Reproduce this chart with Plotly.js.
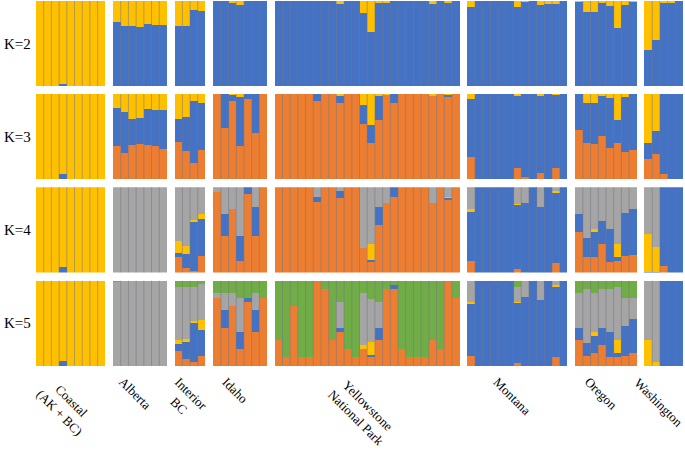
<!DOCTYPE html>
<html><head><meta charset="utf-8">
<script src="https://cdn.plot.ly/plotly-3.0.1.min.js"></script>
<style>body{margin:0;background:#fff}#chart{width:685px;height:450px}</style>
</head><body><div id="chart"></div>
<script>
// Groups (populations) and number of individuals in each
const groups = ['Coastal<br>(AK + BC)','Alberta','Interior<br>BC','Idaho','Yellowstone<br>National Park','Montana','Oregon','Washington'];
const groupSizes = [9,7,4,7,24,13,8,5];
const rowLabels = ['K=2','K=3','K=4','K=5'];

// Cluster membership proportions per individual (order: Coastal, Alberta, Interior BC, Idaho, Yellowstone, Montana, Oregon, Washington)
// K=2
const k2Blue = [0,0,0,0.02,0,0,0,0,0,
  0.75,0.71,0.71,0.70,0.73,0.72,0.72,
  0.71,0.71,0.89,0.88,
  1,1,0.98,0.95,1,1,1,
  1,1,1,1,1,1,1,1,0.97,1,1,0.86,0.64,0.98,0.98,1,1,1,1,1,0.96,1,0.98,1,
  0.93,1,1,1,1,1,0.93,0.99,1,0.95,0.97,0.97,1,
  0.99,0.87,0.87,0.98,0.94,0.68,0.95,0.99,
  0.42,0.54,0.98,0.98,1];
const k2Yellow = [1,1,1,0.98,1,1,1,1,1,
  0.25,0.29,0.29,0.30,0.27,0.28,0.28,
  0.29,0.29,0.11,0.12,
  0,0,0.02,0.05,0,0,0,
  0,0,0,0,0,0,0,0,0.03,0,0,0.14,0.36,0.02,0.02,0,0,0,0,0,0.04,0,0.02,0,
  0.07,0,0,0,0,0,0.07,0.01,0,0.05,0.03,0.03,0,
  0.01,0.13,0.13,0.02,0.06,0.32,0.05,0.01,
  0.58,0.46,0.02,0.02,0];
// K=3
const k3Orange = [0,0,0,0,0,0,0,0,0,
  0.39,0.31,0.40,0.41,0.40,0.39,0.36,
  0.44,0.33,0.19,0.34,
  1,0.60,0.92,0.39,0.94,0.54,1,
  1,1,1,1,1,0.92,1,1,0.89,1,1,0.65,0.42,0.69,0.99,0.89,1,1,1,1,0.98,1,0.96,1,
  0.26,0,0,0,0,0,0.13,0.02,0,0.07,0,0.13,0,
  0.58,0.42,0.41,0.51,0.37,0.43,0.32,0.34,
  0.24,0.29,0.06,0,0];
const k3Blue = [0,0,0,0.06,0,0,0,0,0,
  0.45,0.48,0.31,0.31,0.42,0.42,0.45,
  0.27,0.40,0.73,0.56,
  0,0.40,0.07,0.58,0.06,0.46,0,
  0,0,0,0,0,0.08,0,0,0.09,0,0,0.22,0.22,0.29,0,0.11,0,0,0,0,0,0,0.03,0,
  0.68,1,1,1,1,1,0.85,0.98,1,0.91,1,0.86,1,
  0.42,0.47,0.48,0.47,0.58,0.26,0.65,0.66,
  0.19,0.27,0.94,1,1];
const k3Yellow = [1,1,1,0.94,1,1,1,1,1,
  0.16,0.21,0.29,0.28,0.18,0.19,0.19,
  0.29,0.27,0.08,0.10,
  0,0,0.01,0.03,0,0,0,
  0,0,0,0,0,0,0,0,0.02,0,0,0.13,0.36,0.02,0.01,0,0,0,0,0,0.02,0,0.01,0,
  0.06,0,0,0,0,0,0.02,0,0,0.02,0,0.01,0,
  0,0.11,0.11,0.02,0.05,0.31,0.03,0,
  0.57,0.44,0,0,0];
// K=4
const k4Orange = [0,0,0,0,0,0,0,0,0,
  0,0,0,0,0,0,0,
  0.18,0.05,0.02,0.19,
  0.94,0.43,0.74,0.14,0.92,0.43,1,
  1,1,1,1,1,0.83,1,1,0.87,1,1,0.29,0.12,0.56,0.81,0.88,1,1,1,1,0.81,1,0.85,1,
  0.13,0,0,0,0,0,0.04,0,0,0,0,0.11,0,
  0.48,0.18,0.18,0.34,0.12,0.13,0.19,0.21,
  0,0,0.08,0,0];
const k4Blue = [0,0,0,0.06,0,0,0,0,0,
  0,0,0,0,0,0,0,
  0.05,0.17,0.57,0.44,
  0,0.26,0,0.29,0.08,0.34,0,
  0,0,0,0,0,0.06,0,0,0.08,0,0,0,0.03,0.21,0,0.12,0,0,0,0,0,0,0.02,0,
  0.58,1,1,1,1,1,0.75,0.81,1,0.77,1,0.82,1,
  0.20,0.22,0.29,0.26,0.39,0.05,0.51,0.54,
  0.01,0.01,0.92,1,1];
const k4Yellow = [1,1,1,0.94,1,1,1,1,1,
  0,0,0,0,0,0,0,
  0.14,0.09,0.03,0.05,
  0,0,0,0,0,0,0,
  0,0,0,0,0,0,0,0,0,0,0,0,0.19,0,0,0,0,0,0,0,0.01,0,0.01,0,
  0.03,0,0,0,0,0,0.01,0,0,0,0,0.02,0,
  0,0,0.04,0,0,0.16,0,0,
  0.44,0.29,0,0,0];
const k4Gray = [0,0,0,0,0,0,0,0,0,
  1,1,1,1,1,1,1,
  0.63,0.69,0.38,0.32,
  0.06,0.31,0.26,0.57,0,0.23,0,
  0,0,0,0,0,0.11,0,0,0.05,0,0,0.71,0.66,0.23,0.19,0,0,0,0,0,0.18,0,0.12,0,
  0.26,0,0,0,0,0,0.20,0.19,0,0.23,0,0.05,0,
  0.32,0.60,0.49,0.40,0.49,0.66,0.30,0.25,
  0.55,0.70,0,0,0];
// K=5
const k5Orange = [0,0,0,0,0,0,0,0,0,
  0,0,0,0,0,0,0,
  0.18,0.08,0.05,0.12,
  0.80,0.45,0.70,0.20,0.75,0.40,0.80,
  0.30,0.10,0.70,0.10,0.10,1,0.90,0.30,0.40,0.20,0.10,0.20,0.10,0.30,0.90,0.90,0.20,0.10,0.10,0.10,0.30,0.20,1,0.80,
  0.12,0,0,0,0,0,0.04,0,0,0,0,0.11,0,
  0.30,0.12,0.15,0.25,0.10,0.10,0.12,0.15,
  0,0,0,0,0];
const k5Blue = [0,0,0,0.06,0,0,0,0,0,
  0,0,0,0,0,0,0,
  0.08,0.20,0.45,0.30,
  0,0.20,0,0.20,0.05,0.25,0,
  0,0,0,0,0,0,0,0,0.05,0,0,0,0.03,0.15,0,0.05,0,0,0,0,0,0,0,0,
  0.60,1,1,1,1,1,0.70,0.81,1,0.77,1,0.82,1,
  0.15,0.15,0.20,0.20,0.30,0.05,0.35,0.40,
  0,0,1,1,1];
const k5Yellow = [1,1,1,0.94,1,1,1,1,1,
  0,0,0,0,0,0,0,
  0.04,0.04,0.03,0.12,
  0,0,0,0,0,0,0,
  0,0,0,0,0,0,0,0,0,0,0,0.05,0.15,0,0,0,0,0,0,0,0,0,0,0,
  0.03,0,0,0,0,0,0.01,0,0,0,0,0.02,0,
  0,0,0.05,0,0,0.15,0,0,
  0.30,0.05,0,0,0];
const k5Gray = [0,0,0,0,0,0,0,0,0,
  0.98,1,1,1,1,1,1,
  0.62,0.60,0.40,0.42,
  0.05,0.20,0.15,0.40,0,0.20,0,
  0,0,0,0,0,0,0,0,0.30,0,0,0.60,0.50,0.30,0,0,0,0,0,0,0,0,0,0,
  0.25,0,0,0,0,0,0.17,0.19,0,0.23,0,0.05,0,
  0.40,0.63,0.45,0.45,0.50,0.62,0.33,0.25,
  0.70,0.95,0,0,0];
const k5Green = [0,0,0,0,0,0,0,0,0,
  0.02,0,0,0,0,0,0,
  0.08,0.08,0.07,0.04,
  0.15,0.15,0.15,0.20,0.20,0.15,0.20,
  0.70,0.90,0.30,0.90,0.90,0,0.10,0.70,0.25,0.80,0.90,0.15,0.22,0.25,0.10,0.05,0.80,0.90,0.90,0.90,0.70,0.80,0,0.20,
  0,0,0,0,0,0,0.08,0,0,0,0,0,0,
  0.15,0.10,0.15,0.10,0.10,0.08,0.20,0.20,
  0,0,0,0,0];

const C = {orange:'#ED7D31', blue:'#4472C4', yellow:'#FFC000', gray:'#A5A5A5', green:'#70AD47'};
const FONT = 'Liberation Serif, Times New Roman, serif';

const rows = [
  [['blue',k2Blue],['yellow',k2Yellow]],
  [['orange',k3Orange],['blue',k3Blue],['yellow',k3Yellow]],
  [['orange',k4Orange],['blue',k4Blue],['yellow',k4Yellow],['gray',k4Gray]],
  [['orange',k5Orange],['blue',k5Blue],['yellow',k5Yellow],['gray',k5Gray],['green',k5Green]]
];

// x positions: one empty slot between groups
const xs = [], centers = [], sepX = [], sepY = [];
let pos = 0;
groupSizes.forEach(n => {
  for (let i = 0; i < n; i++) xs.push(pos + i);
  centers.push(pos + (n - 1) / 2);
  for (let j = 1; j < n; j++) { sepX.push(pos + j - 0.5, pos + j - 0.5, null); sepY.push(0, 1, null); }
  pos += n + 1;
});
const xMax = pos - 2;

const domains = [[0.767,1],[0.512,0.745],[0.256,0.490],[0,0.234]];
const traces = [];
const layout = {
  width:685, height:450, margin:{l:36,r:2,t:1,b:84},
  barmode:'stack', bargap:0, showlegend:false,
  paper_bgcolor:'#fff', plot_bgcolor:'#fff',
  font:{family:FONT, color:'#000'},
  annotations:[]
};
rows.forEach((row, r) => {
  const xa = r === 0 ? 'x' : 'x' + (r + 1);
  const ya = r === 0 ? 'y' : 'y' + (r + 1);
  row.forEach(([name, vals]) => {
    traces.push({type:'bar', x:xs, y:vals, width:1, xaxis:xa, yaxis:ya, name:name,
      marker:{color:C[name], line:{width:0}}, hoverinfo:'skip'});
  });
  traces.push({type:'scatter', mode:'lines', x:sepX, y:sepY, xaxis:xa, yaxis:ya,
    line:{color:'rgba(120,120,130,0.55)', width:1}, hoverinfo:'skip'});
  const xkey = r === 0 ? 'xaxis' : 'xaxis' + (r + 1);
  const ykey = r === 0 ? 'yaxis' : 'yaxis' + (r + 1);
  layout[xkey] = {anchor:ya, range:[-0.5, xMax + 0.5], showgrid:false, zeroline:false,
    showline:false, ticks:'', showticklabels:false};
  layout[ykey] = {domain:domains[r], range:[0,1], showgrid:false, zeroline:false,
    showline:false, showticklabels:false, ticks:''};
  layout.annotations.push({text:rowLabels[r], xref:'paper', yref:'paper', x:0, xshift:-3,
    xanchor:'right', y:(domains[r][0] + domains[r][1]) / 2, yanchor:'middle', showarrow:false,
    font:{size:15, family:FONT, color:'#000'}});
});
// group labels under the bottom row, rotated 45 degrees
groups.forEach((g, i) => {
  layout.annotations.push({text:g, xref:'x4', yref:'paper', x:centers[i], y:0, yshift:-6, xshift:-5,
    xanchor:'center', yanchor:'top', textangle:45, showarrow:false, align:'center',
    font:{size:13, family:FONT, color:'#000'}});
});
Plotly.newPlot('chart', traces, layout, {displayModeBar:false, staticPlot:true});
</script>
</body></html>
